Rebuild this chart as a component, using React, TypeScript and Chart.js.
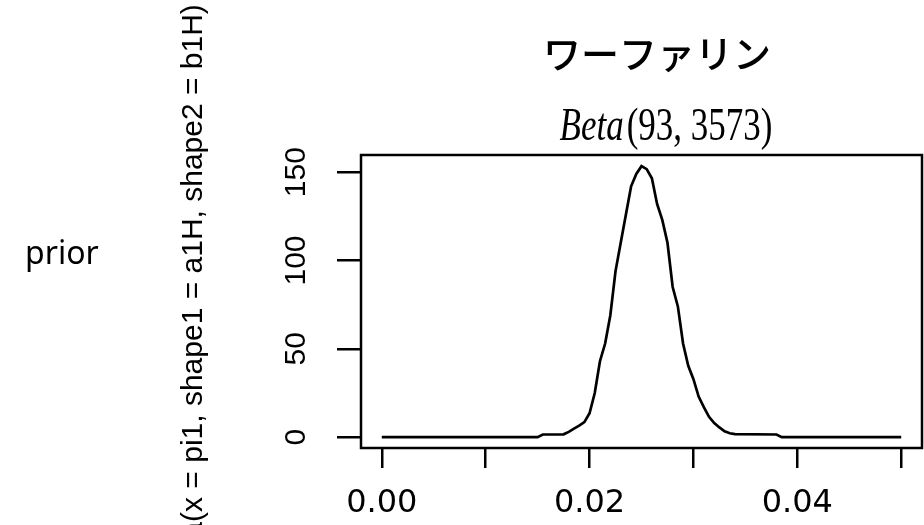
import React, { useEffect, useRef } from "react";
import { Chart, registerables } from "chart.js";

Chart.register(...registerables);

// ---- data ----
const piValues = [
  0, 0.015, 0.0155, 0.016, 0.0165, 0.017, 0.0175, 0.018, 0.0185, 0.019, 0.0195,
  0.02, 0.0205, 0.021, 0.0215, 0.022, 0.0225, 0.023, 0.0235, 0.024, 0.0245,
  0.025, 0.0255, 0.026, 0.0265, 0.027, 0.0275, 0.028, 0.0285, 0.029, 0.0295,
  0.03, 0.0305, 0.031, 0.0315, 0.032, 0.0325, 0.033, 0.0335, 0.034, 0.038,
  0.0385, 0.05,
];
const densityValues = [
  0, 0, 1.5, 1.5, 1.5, 1.5, 1.6, 3, 4.8, 6.5, 8.5,
  13.5, 25, 43, 53, 69, 94, 110, 126, 142, 149,
  153.4, 151.7, 146.5, 132, 123, 110, 85, 74, 53, 40.4,
  32.8, 23, 17, 11.5, 8, 5.5, 3.3, 2.2, 1.7, 1.5,
  0, 0,
];
const xTickValues = [0, 0.01, 0.02, 0.03, 0.04, 0.05];
const xTickLabels = ["0.00", "", "0.02", "", "0.04", ""];
const yTickValues = [0, 50, 100, 150];
const yTickLabels = ["0", "50", "100", "150"];
const titleText = "ワーファリン";
const subtitleItalic = "Beta";
const subtitleRest = "(93, 3573)";
const yAxisLabel = "dbeta(x = pi1, shape1 = a1H, shape2 = b1H)";
const sideLabel = "prior";

const textPlugin = {
  id: "rTexts",
  afterDraw(chart: any) {
    const { ctx, chartArea, scales } = chart;
    ctx.save();
    ctx.fillStyle = "#000";
    ctx.strokeStyle = "#000";

    // box around plot region
    ctx.lineWidth = 2.5;
    ctx.strokeRect(chartArea.left, chartArea.top, chartArea.right - chartArea.left, chartArea.bottom - chartArea.top);

    // side label
    ctx.font = "32px 'Noto Sans'";
    ctx.textAlign = "left";
    ctx.textBaseline = "alphabetic";
    ctx.fillText(sideLabel, 25, 264);

    // title
    ctx.font = "500 38px 'Noto Sans CJK JP'";
    ctx.textAlign = "center";
    ctx.textBaseline = "middle";
    ctx.fillText(titleText, 657, 54);

    // subtitle (math style, tall glyphs)
    ctx.save();
    ctx.translate(0, 140);
    ctx.scale(1, 1.3);
    ctx.textBaseline = "alphabetic";
    ctx.textAlign = "left";
    ctx.font = "italic 35px 'Liberation Serif'";
    const w1 = ctx.measureText(subtitleItalic).width;
    ctx.font = "35px 'Liberation Serif'";
    const w2 = ctx.measureText(subtitleRest).width;
    const sx = 666 - (w1 + w2 + 3) / 2;
    ctx.font = "italic 35px 'Liberation Serif'";
    ctx.fillText(subtitleItalic, sx, 0);
    ctx.font = "35px 'Liberation Serif'";
    ctx.fillText(subtitleRest, sx + w1 + 3, 0);
    ctx.restore();

    // y axis title, rotated
    ctx.save();
    ctx.translate(202, 300.6);
    ctx.rotate(-Math.PI / 2);
    ctx.font = "30px 'Liberation Sans'";
    ctx.textAlign = "center";
    ctx.textBaseline = "alphabetic";
    ctx.fillText(yAxisLabel, 0, 0);
    ctx.restore();

    // y tick labels, rotated like R (las = 0)
    const ys = scales.y;
    yTickValues.forEach((v, i) => {
      const py = ys.getPixelForValue(v);
      ctx.save();
      ctx.translate(305, py);
      ctx.rotate(-Math.PI / 2);
      ctx.font = "30px 'Liberation Sans'";
      ctx.textAlign = "center";
      ctx.textBaseline = "alphabetic";
      ctx.fillText(yTickLabels[i], 0, 0);
      ctx.restore();
    });

    ctx.restore();
  },
};

export default function App() {
  const canvasRef = useRef<HTMLCanvasElement | null>(null);

  useEffect(() => {
    if (!canvasRef.current) return;
    const chart = new Chart(canvasRef.current, {
      type: "line",
      data: {
        datasets: [
          {
            data: piValues.map((x, i) => ({ x, y: densityValues[i] })),
            borderColor: "#000",
            borderWidth: 2.7,
            pointRadius: 0,
            fill: false,
            tension: 0,
          },
        ],
      },
      options: {
        animation: false,
        responsive: false,
        parsing: false as any,
        layout: { padding: { top: 155, right: 2, left: 0, bottom: 0 } },
        plugins: {
          legend: { display: false },
          tooltip: { enabled: false },
          title: { display: false },
        },
        scales: {
          x: {
            type: "linear",
            min: -0.002,
            max: 0.052,
            afterBuildTicks: (scale: any) => {
              scale.ticks = xTickValues.map((v) => ({ value: v }));
            },
            afterFit: (scale: any) => {
              scale.height = 77;
            },
            border: { display: false },
            grid: {
              display: true,
              drawOnChartArea: false,
              drawTicks: true,
              tickLength: 20,
              color: "#000",
              lineWidth: 2.5,
            },
            ticks: {
              autoSkip: false,
              maxRotation: 0,
              minRotation: 0,
              padding: 16,
              color: "#000",
              font: { family: "'DejaVu Sans'", size: 32 },
              callback: (_v: any, i: number) => xTickLabels[i],
            },
          },
          y: {
            type: "linear",
            min: -6.14,
            max: 159.7,
            afterBuildTicks: (scale: any) => {
              scale.ticks = yTickValues.map((v) => ({ value: v }));
            },
            afterFit: (scale: any) => {
              scale.width = 361;
            },
            border: { display: false },
            grid: {
              display: true,
              drawOnChartArea: false,
              drawTicks: true,
              tickLength: 24,
              color: "#000",
              lineWidth: 2.5,
            },
            ticks: { display: false },
          },
        },
      },
      plugins: [textPlugin],
    });
    return () => chart.destroy();
  }, []);

  return (
    <div style={{ position: "fixed", left: 0, top: 0, width: 924, height: 525, background: "#fff" }}>
      <canvas ref={canvasRef} width={924} height={525} style={{ display: "block" }} />
    </div>
  );
}
